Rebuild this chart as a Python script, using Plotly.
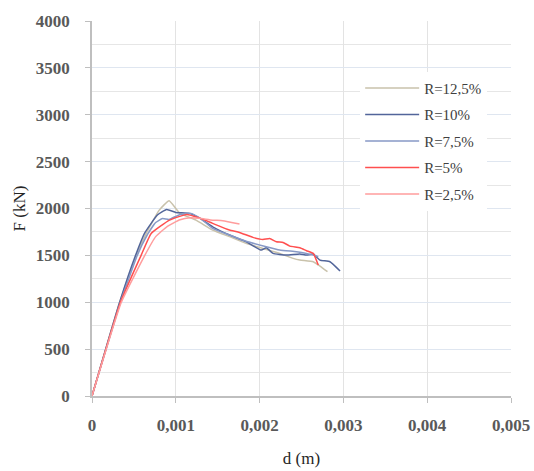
import plotly.graph_objects as go

labels = ["R=12,5%", "R=10%", "R=7,5%", "R=5%", "R=2,5%"]
colors = ["#c9c2ab", "#52659a", "#8799c6", "#ff4f4f", "#ff9d9d"]

d_125 = [0, 0.00033, 0.00053, 0.00065, 0.00080, 0.00092, 0.00105, 0.00124, 0.00144, 0.00164, 0.00184, 0.00204, 0.00224, 0.00240, 0.00248, 0.00264, 0.00272, 0.00281]
F_125 = [0, 1000, 1500, 1740, 1980, 2083, 1948, 1876, 1770, 1700, 1628, 1574, 1521, 1468, 1450, 1432, 1386, 1326]

d_10 = [0, 0.00033, 0.00052, 0.00063, 0.00078, 0.00089, 0.00100, 0.00116, 0.00128, 0.00144, 0.00164, 0.00184, 0.00202, 0.00208, 0.00216, 0.00232, 0.00248, 0.00256, 0.00264, 0.00272, 0.00284, 0.00296]
F_10 = [0, 1000, 1500, 1740, 1930, 1990, 1958, 1948, 1900, 1805, 1717, 1645, 1557, 1582, 1521, 1503, 1514, 1503, 1514, 1450, 1432, 1333]

d_75 = [0, 0.00034, 0.00054, 0.00066, 0.00076, 0.00084, 0.00092, 0.00105, 0.00118, 0.00130, 0.00144, 0.00164, 0.00184, 0.00208, 0.00224, 0.00244, 0.00256, 0.00264, 0.00270]
F_75 = [0, 1000, 1500, 1720, 1850, 1894, 1884, 1937, 1948, 1890, 1788, 1717, 1650, 1592, 1557, 1539, 1521, 1503, 1486]

d_5 = [0, 0.00034, 0.000586, 0.000706, 0.000925, 0.00113, 0.00128, 0.00144, 0.00164, 0.00176, 0.00192, 0.00204, 0.00212, 0.00220, 0.00228, 0.00236, 0.00248, 0.00256, 0.00264, 0.00270]
F_5 = [0, 1000, 1500, 1734, 1876, 1937, 1900, 1841, 1770, 1745, 1692, 1670, 1681, 1645, 1638, 1599, 1582, 1550, 1521, 1397]

d_25 = [0, 0.00035, 0.00063, 0.00076, 0.00090, 0.00105, 0.00117, 0.00128, 0.00144, 0.00156, 0.00176]
F_25 = [0, 1000, 1500, 1700, 1810, 1880, 1901, 1895, 1876, 1870, 1834]

series = [(d_125, F_125), (d_10, F_10), (d_75, F_75), (d_5, F_5), (d_25, F_25)]

fig = go.Figure()
for i, ((d, F), lab, col) in enumerate(zip(series, labels, colors)):
    fig.add_trace(go.Scatter(
        x=d, y=F, mode="lines", name=lab, legendgroup=f"g{i}",
        line=dict(color=col, width=1.5, shape="spline", smoothing=0.4),
    ))

serif = "Liberation Serif"
fig.update_layout(
    width=534, height=471,
    margin=dict(l=92, r=23, t=21, b=75),
    paper_bgcolor="white", plot_bgcolor="white",
    separators=", ",
    showlegend=True,
    legend=dict(
        x=0.64, y=0.865, xanchor="left", yanchor="top",
        bgcolor="rgba(255,255,255,1)",
        font=dict(family=serif, size=15, color="#404040"),
        tracegroupgap=4, itemwidth=54,
    ),
    xaxis=dict(
        range=[0, 0.005], dtick=0.001, tick0=0, automargin=False,
        showgrid=True, gridcolor="#e3e3e3", gridwidth=1,
        showline=True, linecolor="#bfbfbf", linewidth=1.5,
        ticks="outside", ticklen=5, tickcolor="#bfbfbf",
        ticklabelstandoff=8,
        zeroline=False,
        tickfont=dict(family=serif, size=17, color="#595959", weight="bold"),
        title=dict(text="d (m)", font=dict(family=serif, size=17, color="#262626"), standoff=18),
    ),
    yaxis=dict(
        range=[0, 4000], dtick=500, tick0=0, automargin=False,
        showgrid=True, gridcolor="#dfe6f0", gridwidth=1,
        minor=dict(dtick=250, showgrid=True, gridcolor="#e6e6e6", gridwidth=1),
        showline=True, linecolor="#bfbfbf", linewidth=1.5,
        ticks="outside", ticklen=5, tickcolor="#bfbfbf",
        ticklabelstandoff=12,
        zeroline=False,
        tickfont=dict(family=serif, size=17, color="#595959", weight="bold"),
        title=dict(text="F (kN)", font=dict(family=serif, size=17, color="#262626"), standoff=6),
    ),
)

fig.write_html(
    "out.html",
    config={"displayModeBar": False},
    post_script="document.body.style.margin='0';document.body.style.overflow='hidden';",
)
